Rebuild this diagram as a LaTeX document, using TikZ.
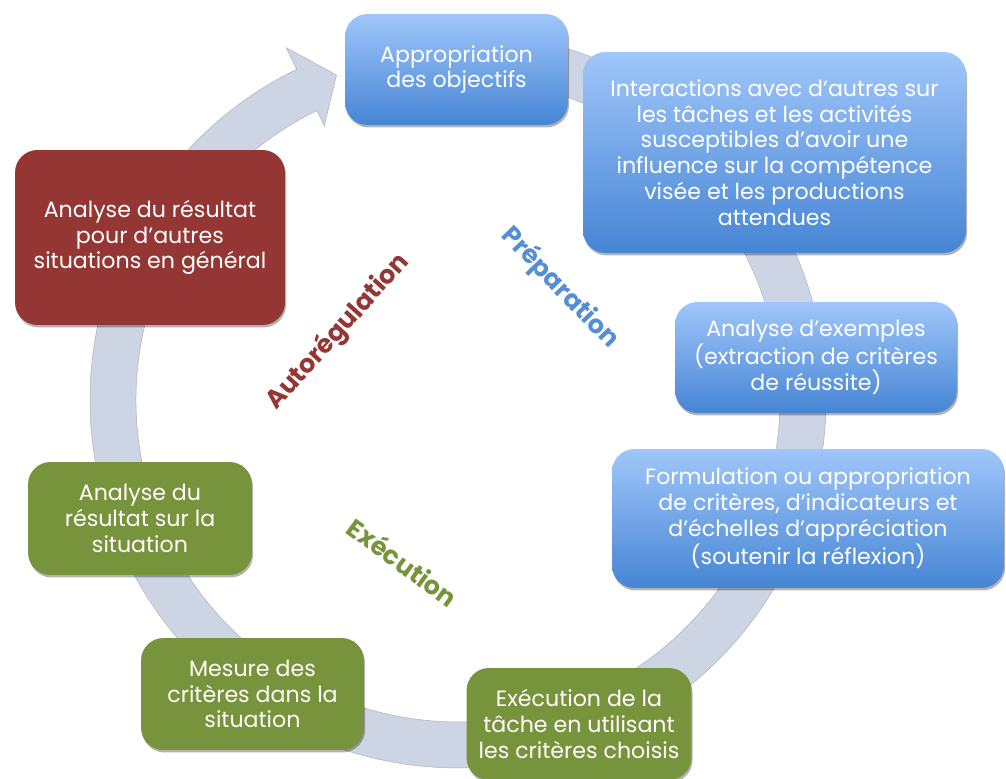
\documentclass[tikz,border=0pt]{standalone}
\usepackage{fontspec}
\setmainfont{Poppins}
\usetikzlibrary{shadows}

\definecolor{ringgray}{RGB}{205,212,228}
\definecolor{bluetop}{RGB}{160,198,250}
\definecolor{bluebot}{RGB}{70,133,212}
\definecolor{redbox}{RGB}{148,55,52}
\definecolor{greenbox}{RGB}{119,147,60}
\definecolor{bluelabel}{RGB}{85,142,213}

\tikzset{
  stepbox/.style={rounded corners=0.45cm, align=center, text=white, inner sep=0pt,
    font=\fontsize{12.6}{14.7}\selectfont,
    drop shadow={shadow xshift=0.6pt, shadow yshift=-1.4pt, opacity=0.3, fill=black}},
  prepbox/.style={stepbox, top color=bluetop, bottom color=bluebot},
  execbox/.style={stepbox, fill=greenbox},
  regbox/.style={stepbox, fill=redbox},
  phaselabel/.style={font=\fontsize{14.5}{16}\selectfont\bfseries},
}

\begin{document}
\begin{tikzpicture}[x=0.02cm, y=0.02cm]
  \useasboundingbox (0,0) rectangle (1006,778);

  % Define ring
  \begin{scope}[shift={(458,378)}]
    \fill[ringgray, draw=ringgray!85!black, line width=0.3pt]
      (100:368) arc[start angle=100, end angle=-244, radius=7.36cm]
      -- (-244:392) -- (-249.5:347) -- (-244:305) -- (-244:322)
      arc[start angle=-244, end angle=100, radius=6.44cm] -- cycle;
  \end{scope}

  % Define nodes
  \node[prepbox, minimum width=4.46cm, minimum height=2.22cm] (appro) at (456.5,708.5)
    {Appropriation\\des objectifs};
  \node[prepbox, minimum width=7.66cm, minimum height=4.02cm] (inter) at (774.5,625.5)
    {Interactions avec d’autres sur\\les tâches et les activités\\susceptibles d’avoir une\\influence sur la compétence\\visée et les productions\\attendues};
  \node[prepbox, minimum width=5.64cm, minimum height=2.22cm] (exemples) at (816,420.5)
    {Analyse d’exemples\\(extraction de critères\\de réussite)};
  \node[prepbox, minimum width=7.84cm, minimum height=2.78cm] (formul) at (808,259.5)
    {Formulation ou appropriation\\de critères, d’indicateurs et\\d’échelles d’appréciation\\(soutenir la réflexion)};
  \node[execbox, minimum width=4.5cm, minimum height=2.24cm] (tache) at (579,54)
    {Exécution de la\\tâche en utilisant\\les critères choisis};
  \node[execbox, minimum width=4.46cm, minimum height=2.24cm] (mesure) at (252.5,84)
    {Mesure des\\critères dans la\\situation};
  \node[execbox, minimum width=4.48cm, minimum height=2.26cm] (sitan) at (140,259.5)
    {Analyse du\\résultat sur la\\situation};
  \node[regbox, minimum width=5.4cm, minimum height=3.5cm] (genan) at (150,540.5)
    {Analyse du résultat\\pour d’autres\\situations en général};

  % Define labels
  \node[phaselabel, text=bluelabel, rotate=-46] (prep) at (560,490) {Préparation};
  \node[phaselabel, text=redbox, rotate=48] (autoreg) at (338,446) {Autorégulation};
  \node[phaselabel, text=greenbox, rotate=-36] (exe) at (403,216) {Exécution};
\end{tikzpicture}
\end{document}
